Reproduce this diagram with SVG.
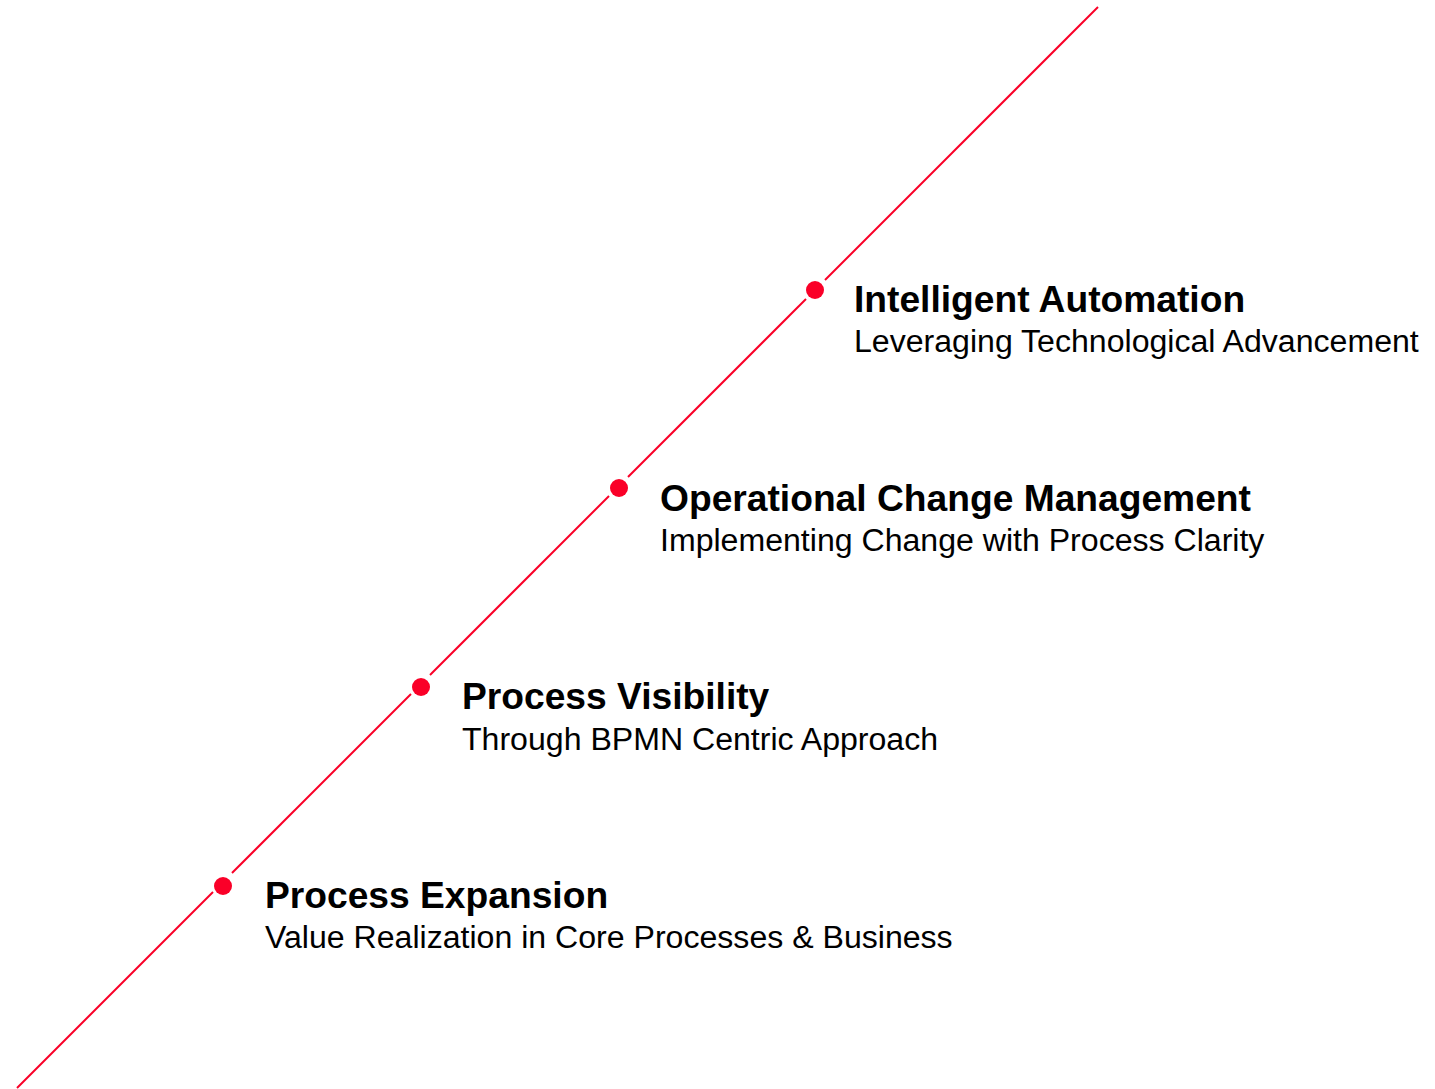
<svg xmlns="http://www.w3.org/2000/svg" width="1435" height="1089" viewBox="0 0 1435 1089">
<style>
.ln{stroke:#fa0028;stroke-width:2;fill:none}
.dot{fill:#fa0028}
.t{font-family:"Liberation Sans",Arial,sans-serif;font-weight:bold;font-size:37.2px;fill:#000}
.s{font-family:"Liberation Sans",Arial,sans-serif;font-size:32.1px;fill:#000}
</style>
<rect width="1435" height="1089" fill="#fff"/>
<g id="connectors">
<line class="ln" x1="1098" y1="7" x2="825" y2="280"/>
<line class="ln" x1="806" y1="299" x2="628" y2="477"/>
<line class="ln" x1="609" y1="496" x2="430" y2="675"/>
<line class="ln" x1="411" y1="694" x2="232" y2="873"/>
<line class="ln" x1="213" y1="892" x2="17" y2="1088"/>
</g>
<g id="node1">
<circle class="dot" cx="815" cy="290" r="9"/>
<text class="t" x="854" y="312">Intelligent Automation</text>
<text class="s" x="854" y="352">Leveraging Technological Advancement</text>
</g>
<g id="node2">
<circle class="dot" cx="619" cy="488" r="9"/>
<text class="t" x="660" y="511">Operational Change Management</text>
<text class="s" x="660" y="551">Implementing Change with Process Clarity</text>
</g>
<g id="node3">
<circle class="dot" cx="421" cy="687" r="9"/>
<text class="t" x="462" y="709">Process Visibility</text>
<text class="s" x="462" y="750">Through BPMN Centric Approach</text>
</g>
<g id="node4">
<circle class="dot" cx="223" cy="886" r="9"/>
<text class="t" x="265" y="908">Process Expansion</text>
<text class="s" x="265" y="948">Value Realization in Core Processes &amp; Business</text>
</g>
</svg>
